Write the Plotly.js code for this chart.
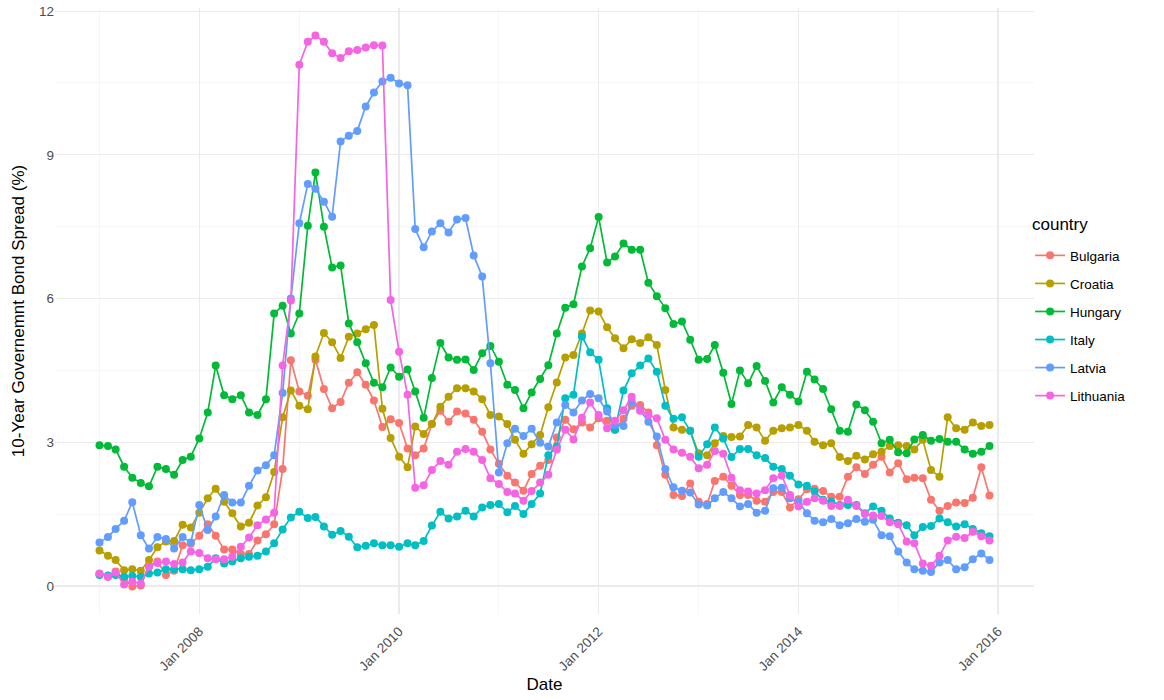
<!DOCTYPE html>
<html>
<head>
<meta charset="utf-8">
<script src="https://cdn.plot.ly/plotly-3.0.1.min.js"></script>
<style>html,body{margin:0;padding:0;background:#fff;}#chart{width:1164px;height:700px;}</style>
</head>
<body>
<div id="chart"></div>
<script>
// Monthly observations, Jan 2007 .. Dec 2015
const startYear = 2007, startMonth = 1, nMonths = 108;
const countries = ["Bulgaria", "Croatia", "Hungary", "Italy", "Latvia", "Lithuania"];

const bulgaria = [
  0.25,0.19,0.30,0.15,-0.01,0.01,0.42,0.51,0.23,0.32,0.85,0.88,
  1.05,1.29,1.05,0.76,0.76,0.67,0.67,0.95,1.08,1.29,2.44,4.71,
  4.06,3.97,4.72,4.11,3.71,3.84,4.24,4.46,4.20,3.87,3.32,3.48,
  3.40,2.87,2.73,2.87,3.38,3.66,3.43,3.64,3.60,3.47,3.22,2.85,
  2.55,2.30,2.16,1.99,2.34,2.51,2.63,3.10,3.47,3.27,3.41,3.31,
  3.50,3.45,3.26,3.49,3.76,3.78,3.62,2.94,2.32,1.90,1.88,2.14,
  1.76,1.71,2.19,2.28,2.09,1.90,1.90,1.78,1.76,1.96,1.96,1.64,
  1.81,2.02,2.03,1.98,1.86,1.86,2.28,2.48,2.34,2.53,2.70,2.37,
  2.56,2.23,2.26,2.25,1.80,1.57,1.67,1.74,1.73,1.84,2.48,1.89
];
const croatia = [
  0.74,0.63,0.54,0.33,0.35,0.32,0.54,0.81,0.93,0.94,1.28,1.22,
  1.53,1.83,2.03,1.76,1.52,1.24,1.32,1.68,1.85,2.38,3.52,4.08,
  3.76,3.69,4.79,5.28,5.09,4.76,5.20,5.27,5.36,5.45,3.70,3.09,
  2.70,2.48,3.33,3.17,3.38,3.74,3.95,4.13,4.13,4.06,3.90,3.57,
  3.54,3.38,3.05,2.76,2.96,3.15,3.73,4.25,4.77,4.82,5.27,5.75,
  5.73,5.40,5.17,4.96,5.15,5.07,5.19,5.03,4.09,3.31,3.26,3.24,
  2.77,2.73,2.98,3.13,3.11,3.12,3.36,3.31,3.03,3.24,3.29,3.31,
  3.36,3.24,3.01,2.94,2.98,2.69,2.61,2.72,2.64,2.75,2.80,2.92,
  2.94,2.92,2.85,3.05,2.42,2.28,3.52,3.29,3.26,3.41,3.34,3.36
];
const hungary = [
  2.94,2.92,2.85,2.49,2.26,2.15,2.08,2.49,2.44,2.32,2.63,2.70,
  3.08,3.62,4.60,3.98,3.90,3.98,3.62,3.57,3.90,5.69,5.85,5.27,
  5.69,7.52,8.63,7.50,6.65,6.69,5.48,5.09,4.65,4.24,4.15,4.56,
  4.37,4.52,4.06,3.51,4.34,5.07,4.77,4.72,4.73,4.51,4.86,5.01,
  4.68,4.20,4.09,3.71,4.04,4.32,4.61,5.27,5.81,5.88,6.67,7.05,
  7.70,6.75,6.88,7.15,7.02,7.02,6.33,6.05,5.80,5.47,5.52,5.14,
  4.72,4.74,5.03,4.45,3.80,4.50,4.23,4.59,4.28,3.83,4.15,3.99,
  3.85,4.47,4.31,4.11,3.69,3.24,3.22,3.79,3.67,3.43,2.98,3.05,
  2.79,2.77,3.06,3.15,3.03,3.07,3.01,3.01,2.85,2.76,2.80,2.92
];
const italy = [
  0.23,0.22,0.23,0.19,0.21,0.19,0.26,0.28,0.35,0.35,0.35,0.33,
  0.35,0.40,0.58,0.47,0.51,0.58,0.61,0.63,0.72,0.89,1.18,1.43,
  1.55,1.42,1.44,1.24,1.07,1.15,1.03,0.81,0.84,0.89,0.85,0.85,
  0.82,0.89,0.85,0.94,1.26,1.55,1.41,1.45,1.57,1.45,1.64,1.69,
  1.71,1.54,1.67,1.50,1.71,1.93,2.73,2.91,3.92,3.99,5.21,4.88,
  4.72,3.71,3.26,4.08,4.44,4.60,4.75,4.47,3.76,3.49,3.52,3.24,
  2.70,2.96,3.31,3.08,2.69,2.86,2.86,2.73,2.67,2.49,2.44,2.30,
  2.12,2.09,1.97,1.80,1.76,1.69,1.69,1.69,1.52,1.66,1.57,1.41,
  1.32,1.27,1.06,1.23,1.25,1.41,1.33,1.24,1.29,1.19,1.10,1.04
];
const latvia = [
  0.91,1.02,1.19,1.36,1.75,1.06,0.78,1.02,0.98,0.78,1.02,0.91,
  1.69,1.17,1.45,1.90,1.74,1.74,2.09,2.41,2.52,2.73,4.03,6.00,
  7.57,8.39,8.29,8.02,7.71,9.28,9.40,9.50,10.01,10.30,10.53,10.61,
  10.49,10.45,7.45,7.07,7.40,7.57,7.38,7.65,7.68,6.90,6.46,4.65,
  2.37,2.98,3.28,3.13,3.28,2.99,2.91,3.41,3.78,3.62,3.87,4.01,
  3.92,3.64,3.36,3.34,3.85,3.67,3.43,3.12,2.44,2.06,1.99,1.95,
  1.70,1.68,1.83,1.96,1.83,1.66,1.71,1.53,1.57,2.04,2.05,1.83,
  1.76,1.52,1.36,1.33,1.40,1.27,1.31,1.40,1.34,1.38,1.06,1.04,
  0.72,0.49,0.35,0.32,0.29,0.49,0.54,0.35,0.39,0.56,0.68,0.54
];
const lithuania = [
  0.26,0.19,0.28,0.03,0.09,0.05,0.40,0.48,0.51,0.46,0.49,0.72,
  0.69,0.58,0.56,0.56,0.61,0.82,1.01,1.27,1.39,1.53,4.60,5.96,
  10.88,11.36,11.49,11.36,11.12,11.02,11.16,11.19,11.24,11.29,11.28,5.97,
  4.89,3.99,2.05,2.10,2.42,2.61,2.53,2.80,2.86,2.80,2.63,2.25,
  2.13,1.96,1.93,1.78,1.98,2.16,2.32,2.85,3.26,3.06,3.51,3.83,
  3.57,3.29,3.45,3.67,3.95,3.66,3.57,3.50,3.05,2.85,2.78,2.70,
  2.46,2.53,2.82,2.76,2.26,2.00,1.97,1.93,2.00,2.25,2.30,1.90,
  1.66,1.76,1.83,1.78,1.67,1.67,1.80,1.67,1.50,1.47,1.46,1.33,
  1.29,0.93,0.89,0.47,0.42,0.63,0.95,1.03,1.00,1.13,1.04,0.95
];
const seriesValues = [bulgaria, croatia, hungary, italy, latvia, lithuania];
const colors = ["#F8766D", "#B79F00", "#00BA38", "#00BFC4", "#619CFF", "#F564E3"];
const tickLabels = ["Jan 2008", "Jan 2010", "Jan 2012", "Jan 2014", "Jan 2016"];
const tickDates = ["2008-01-01", "2010-01-01", "2012-01-01", "2014-01-01", "2016-01-01"];

const dates = [];
for (let i = 0; i < nMonths; i++) {
  const y = startYear + Math.floor((startMonth - 1 + i) / 12);
  const m = ((startMonth - 1 + i) % 12) + 1;
  dates.push(y + "-" + String(m).padStart(2, "0") + "-01");
}

const traces = countries.map((c, k) => ({
  x: dates, y: seriesValues[k], name: c, legendgroup: c,
  type: "scatter", mode: "lines+markers",
  line: {color: colors[k], width: 1.7},
  marker: {color: colors[k], size: 8}
}));

// ggplot-style 5% expansion
const tMin = Date.parse(dates[0]), tMax = Date.parse(dates[dates.length - 1]);
const span = tMax - tMin;
const xr = [new Date(tMin - 0.05 * span).toISOString(), new Date(tMax + 0.05 * span).toISOString()];
let ymin = Infinity, ymax = -Infinity;
seriesValues.forEach(s => s.forEach(v => { ymin = Math.min(ymin, v); ymax = Math.max(ymax, v); }));
const yspan = ymax - ymin;
const yr = [ymin - 0.05 * yspan, ymax + 0.05 * yspan];

const font = "Liberation Sans, Arial, Helvetica, sans-serif";
const layout = {
  width: 1164, height: 700,
  margin: {l: 55, r: 130, t: 8, b: 86},
  paper_bgcolor: "#ffffff", plot_bgcolor: "#ffffff",
  font: {family: font, color: "#000000"},
  xaxis: {
    type: "date", range: xr,
    tickvals: tickDates, ticktext: tickLabels,
    tickangle: -45, tickfont: {size: 13.5, color: "#4D4D4D"},
    ticklabelstandoff: 6,
    showgrid: true, gridcolor: "#EBEBEB", gridwidth: 1.2,
    minor: {dtick: "M12", tick0: "2007-01-01", showgrid: true, gridcolor: "#F2F2F2", gridwidth: 0.7, ticklen: 0},
    ticks: "", zeroline: false, showline: false,
    title: {text: "Date", font: {size: 17}, standoff: 5}
  },
  yaxis: {
    range: yr, tick0: 0, dtick: 3,
    tickfont: {size: 13.5, color: "#4D4D4D"},
    showgrid: true, gridcolor: "#EBEBEB", gridwidth: 1.2,
    minor: {dtick: 1.5, showgrid: true, gridcolor: "#F2F2F2", gridwidth: 0.7, ticklen: 0},
    ticks: "", zeroline: false, showline: false,
    title: {text: "10-Year Governemnt Bond Spread (%)", font: {size: 17}, standoff: 10}
  },
  legend: {
    font: {size: 13.5},
    x: 0.996, xanchor: "left", y: 0.617, yanchor: "top",
    tracegroupgap: 7.5, itemwidth: 30,
    bgcolor: "rgba(0,0,0,0)"
  },
  annotations: [{
    text: "country", xref: "paper", yref: "paper",
    x: 0.996, y: (614 - 224) / 606, xanchor: "left", yanchor: "middle",
    xshift: 0, showarrow: false, font: {size: 17, color: "#000000"}
  }],
  showlegend: true
};

Plotly.newPlot("chart", traces, layout, {displayModeBar: false, staticPlot: true});
</script>
</body>
</html>
